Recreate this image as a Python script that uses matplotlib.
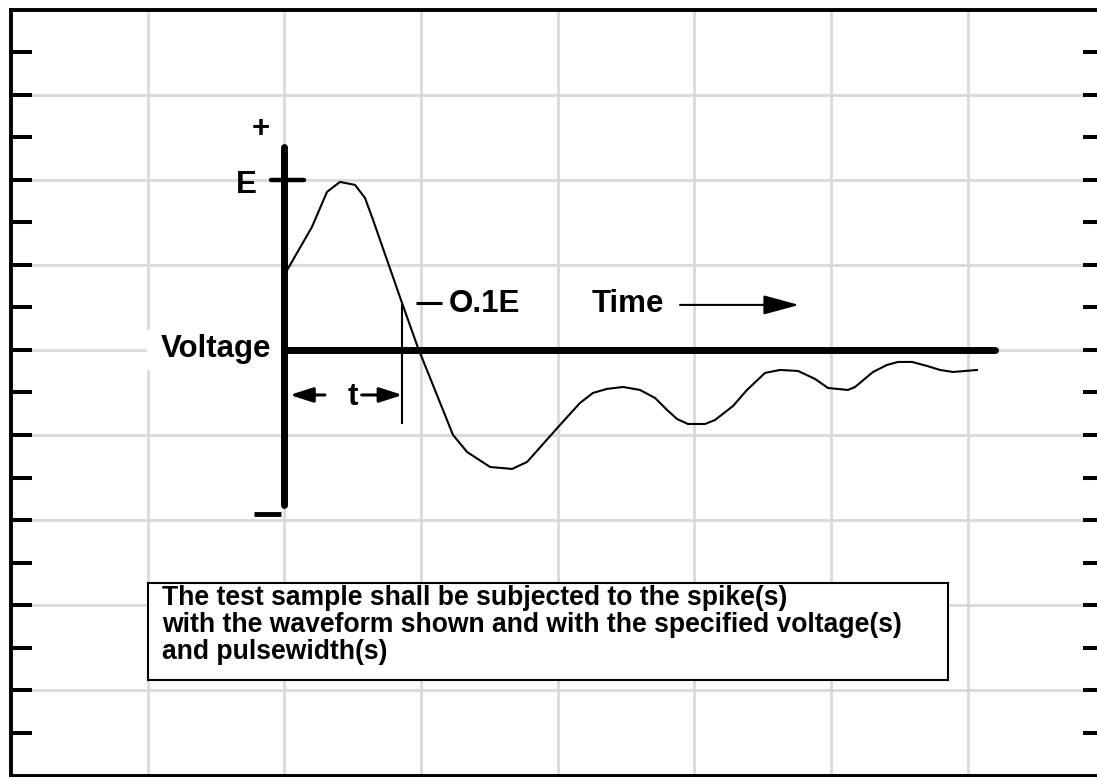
import numpy as np
import matplotlib
matplotlib.use("Agg")
import matplotlib.pyplot as plt
from matplotlib.patches import Rectangle

plt.rcParams['font.family'] = ['Liberation Sans', 'DejaVu Sans']
plt.rcParams['font.weight'] = 'bold'

# waveform, in grid divisions (x: time, y: voltage, 0 = baseline)
wave_t = [2.0, 2.202, 2.312, 2.407, 2.517, 2.590, 2.649, 2.861, 2.978, 3.234,
          3.337, 3.505, 3.666, 3.776, 4.017, 4.163, 4.258, 4.360, 4.478, 4.602,
          4.712, 4.800, 4.873, 4.953, 5.078, 5.151, 5.283, 5.385, 5.517, 5.627,
          5.759, 5.883, 5.978, 6.124, 6.176, 6.307, 6.410, 6.490, 6.593, 6.702,
          6.797, 6.893, 7.068]
wave_v = [0.881, 1.445, 1.857, 1.974, 1.939, 1.786, 1.528, 0.552, 0.024, -0.999,
          -1.199, -1.375, -1.398, -1.316, -0.881, -0.623, -0.505, -0.458, -0.435, -0.470,
          -0.564, -0.705, -0.811, -0.870, -0.870, -0.823, -0.658, -0.470, -0.270, -0.235,
          -0.247, -0.341, -0.447, -0.470, -0.435, -0.259, -0.176, -0.141, -0.141, -0.188,
          -0.235, -0.259, -0.235]

# axes of the sketch
v_axis_x = 2.0
v_axis_range = [-1.82, 2.39]
t_axis_range = [2.0, 7.2]
e_level = 2.0
marker_t = 2.861        # 0.1E point
marker_range = [0.53, -0.86]

note_lines = ["The test sample shall be subjected to the spike(s)",
              "with the waveform shown and with the specified voltage(s)",
              "and pulsewidth(s)"]

fig = plt.figure(figsize=(10.97, 7.77), dpi=100)
ax = fig.add_axes([11 / 1097, 1.5 / 777, 1093.4 / 1097, 766 / 777])
ax.set_xlim(0, 8)
ax.set_ylim(-5, 4)

for s in ax.spines.values():
    s.set_linewidth(2.8)

ax.set_xticks([])
ax.set_yticks(np.arange(-4.5, 4.0, 0.5))
ax.tick_params(axis='y', direction='in', length=15, width=2.9,
               left=True, right=True, labelleft=False)

# grid
for gx in range(1, 8):
    ax.axvline(gx, color='#d9d9d9', lw=2, zorder=0.5)
for gy in range(-4, 4):
    ax.axhline(gy, color='#d9d9d9', lw=2, zorder=0.5)

# white patch behind "Voltage"
ax.add_patch(Rectangle((0.995, -0.235), 1.0, 0.47, fc='white', ec='none', zorder=1))

# axes of the waveform
ax.plot([v_axis_x, v_axis_x], v_axis_range, color='black', lw=5,
        solid_capstyle='round', zorder=4)
ax.plot(t_axis_range, [0, 0], color='black', lw=5, solid_capstyle='round', zorder=4)
ax.plot([1.902, 2.144], [e_level, e_level], color='black', lw=3.2,
        solid_capstyle='round', zorder=4)
ax.plot([1.778, 1.976], [-1.93, -1.93], color='black', lw=3.5,
        solid_capstyle='butt', zorder=4)

# waveform
ax.plot(wave_t, wave_v, color='black', lw=1.5, zorder=3)

# 0.1E marker
ax.plot([marker_t, marker_t], marker_range, color='black', lw=1.5, zorder=3)
ax.plot([2.963, 3.154], [0.552, 0.552], color='black', lw=2.2,
        solid_capstyle='butt', zorder=3)

# labels
fs = 22.5
ax.text(1.905, -0.082, "Voltage", fontsize=fs, ha='right', va='baseline', zorder=5)
ax.text(1.72, 1.845, "E", fontsize=fs, ha='center', va='baseline', zorder=5)
ax.text(1.829, 2.503, "+", fontsize=fs, ha='center', va='baseline', zorder=5)
ax.text(3.205, 0.45, "O.1E", fontsize=fs, ha='left', va='baseline', zorder=5)
ax.text(4.251, 0.45, "Time", fontsize=fs, ha='left', va='baseline', zorder=5)
ax.text(2.502, -0.646, "t", fontsize=fs, ha='center', va='baseline', zorder=5)

# arrows
arr = dict(arrowstyle='-|>,head_length=1.4,head_width=0.45', color='black',
           lw=2.2, shrinkA=0, shrinkB=0, mutation_scale=10)
ax.annotate('', xy=(2.04, -0.529), xytext=(2.297, -0.529), arrowprops=arr, zorder=5)
ax.annotate('', xy=(2.865, -0.529), xytext=(2.566, -0.529), arrowprops=arr, zorder=5)
arr2 = dict(arrowstyle='-|>,head_length=2.2,head_width=0.6', color='black',
            lw=1.5, shrinkA=0, shrinkB=0, mutation_scale=10)
ax.annotate('', xy=(5.765, 0.529), xytext=(4.895, 0.529), arrowprops=arr2, zorder=5)

# note box
ax.add_patch(Rectangle((1.0, -3.878), 5.856, 1.134, fc='white', ec='black',
                       lw=1.5, zorder=2))
for i, line in enumerate(note_lines):
    ax.text(1.105, -2.996 - 0.317 * i, line, fontsize=19.1, ha='left',
            va='baseline', zorder=5)

fig.savefig("out.png", dpi=100)
